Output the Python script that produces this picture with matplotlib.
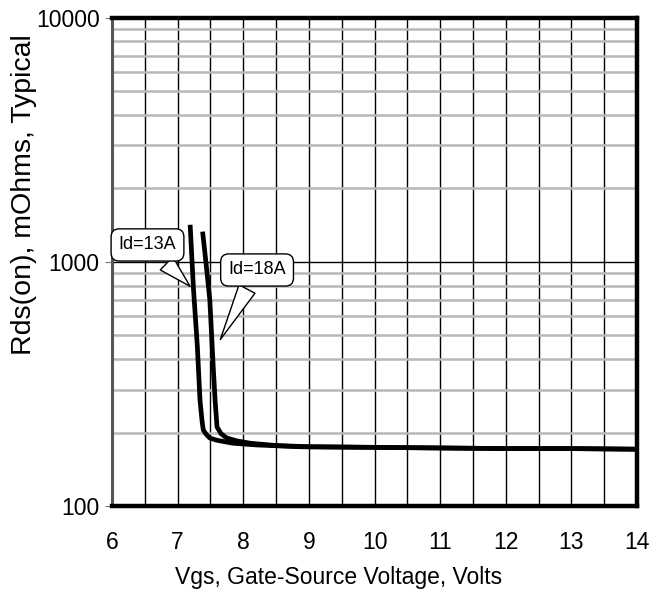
import matplotlib.pyplot as plt
from matplotlib.ticker import FixedLocator, LogLocator, NullFormatter
import numpy as np

plt.rcParams['font.family'] = ['Liberation Sans', 'DejaVu Sans']

# Rds(on) vs Vgs
vgs_13a = [7.19, 7.24, 7.30, 7.34, 7.37, 7.39, 7.44, 7.49, 7.60, 7.84, 8.2, 8.87, 10.0, 11.0, 12.0, 13.0, 14.0]
rds_13a = [1420, 782, 450, 272, 225, 205, 196, 190, 186, 181, 178, 175, 174, 173, 172, 172, 171]

vgs_18a = [7.38, 7.43, 7.49, 7.54, 7.57, 7.60, 7.66, 7.75, 7.90, 8.1, 8.5, 9.0, 10.0, 11.0, 12.0, 13.0, 14.0]
rds_18a = [1331, 1000, 699, 380, 272, 211, 198, 190, 185, 181, 177, 175, 174, 173, 172, 172, 171]

labels = ['Id=13A', 'Id=18A']
label_pos = [(6.54, 1174), (8.21, 927)]
arrow_tip = [(7.22, 780), (7.63, 470)]

xticks = [6, 7, 8, 9, 10, 11, 12, 13, 14]

fig = plt.figure(figsize=(6.67, 5.94), dpi=100)
ax = fig.add_axes([0.168, 0.148, 0.787, 0.822])

ax.set_yscale('log')
ax.set_xlim(6, 14)
ax.set_ylim(100, 10000)

ax.xaxis.set_major_locator(FixedLocator(xticks))
ax.xaxis.set_minor_locator(FixedLocator(np.arange(6.5, 14, 1.0)))
ax.yaxis.set_major_locator(FixedLocator([100, 1000, 10000]))
ax.yaxis.set_minor_locator(LogLocator(base=10, subs=np.arange(2, 10)))
ax.yaxis.set_minor_formatter(NullFormatter())
ax.set_yticklabels(['100', '1000', '10000'])

ax.grid(which='major', axis='x', color='black', lw=1.0)
ax.grid(which='minor', axis='x', color='black', lw=1.0)
ax.grid(which='major', axis='y', color='black', lw=1.0)
ax.grid(which='minor', axis='y', color='#b8b8b8', lw=1.8)

ax.tick_params(axis='x', which='both', length=0, labelsize=16.5, pad=18)
ax.tick_params(axis='y', which='major', length=5, color='#777777', labelsize=16.5, pad=4)
ax.tick_params(axis='y', which='minor', length=0)

for side in ['top', 'right', 'bottom']:
    ax.spines[side].set_linewidth(3.2)
    ax.spines[side].set_color('black')
ax.spines['left'].set_linewidth(2.2)
ax.spines['left'].set_color('#555555')

ax.plot(vgs_13a, rds_13a, color='black', lw=3.4, solid_capstyle='butt', zorder=3)
ax.plot(vgs_18a, rds_18a, color='black', lw=3.4, solid_capstyle='butt', zorder=3)

for txt, pos, tip in zip(labels, label_pos, arrow_tip):
    ax.annotate(txt, xy=tip, xytext=pos, fontsize=13, ha='center', va='center',
                bbox=dict(boxstyle='round,pad=0.42,rounding_size=0.45', fc='white', ec='black', lw=1.0),
                arrowprops=dict(arrowstyle='wedge,tail_width=1.0,shrink_factor=0.5',
                                fc='white', ec='black', lw=1.0),
                zorder=5)

ax.set_xlabel('Vgs, Gate-Source Voltage, Volts', fontsize=16.5)
ax.xaxis.set_label_coords(0.432, -0.123)
ax.set_ylabel('Rds(on), mOhms, Typical', fontsize=20.5)
ax.yaxis.set_label_coords(-0.143, 0.637)

fig.savefig('out.png', dpi=100)
